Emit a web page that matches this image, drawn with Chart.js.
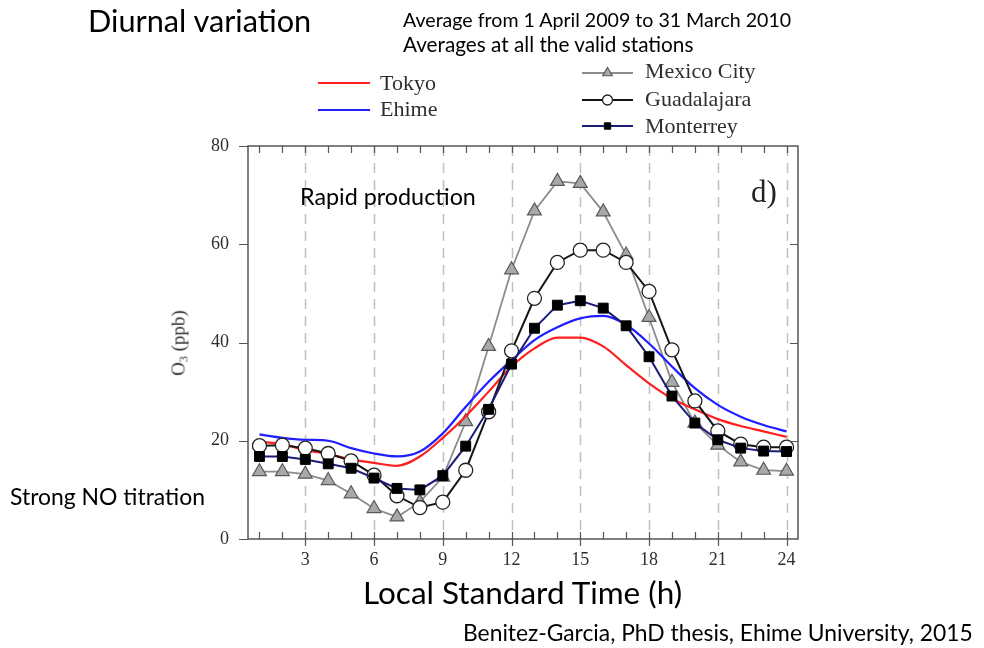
<!DOCTYPE html>
<html><head><meta charset="utf-8">
<script src="https://cdn.jsdelivr.net/npm/chart.js@4.4.1/dist/chart.umd.min.js"></script>
<style>
html,body{margin:0;padding:0;background:#fff;width:984px;height:648px;overflow:hidden;}
#wrap{position:relative;width:984px;height:648px;}
canvas{position:absolute;left:0;top:0;}
.t{position:absolute;white-space:nowrap;line-height:1;}
.cal{font-family:Lato,"Open Sans",sans-serif;color:#000;}
.tim{font-family:"Liberation Serif","DejaVu Serif",serif;color:#2e2e2e;}
#ylab{position:absolute;white-space:nowrap;line-height:1;font-family:"Liberation Serif",serif;font-size:19px;color:#2e2e2e;transform:translate(-50%,-50%) rotate(-90deg);}
#ylab sub{font-size:12px;vertical-align:-3px;}
</style></head><body>
<div id="wrap"><canvas id="c" width="984" height="648"></canvas><div id="txt"></div><div id="ylab">O<sub>3</sub> (ppb)</div></div>
<script>
// ---- data ----
const hours = [1,2,3,4,5,6,7,8,9,10,11,12,13,14,15,16,17,18,19,20,21,22,23,24];
const xTickLabels = [3,6,9,12,15,18,21,24];
const yTickLabels = [0,20,40,60,80];
const seriesNames = ["Tokyo","Ehime","Mexico City","Guadalajara","Monterrey"];
const tokyo = [19.8,19.3,18.1,17.3,16.2,15.5,14.9,16.8,20.6,25.0,30.0,35.1,38.8,41.0,41.0,39.2,35.4,31.7,28.6,26.4,24.4,23.0,21.9,20.8];
const ehime = [21.3,20.6,20.2,20.0,18.5,17.4,16.8,17.8,21.5,26.9,32.0,36.4,40.5,43.1,44.9,45.4,43.6,39.8,35.1,30.7,27.3,24.9,23.2,21.9];
const mexicoCity = [13.7,13.7,13.2,11.9,9.2,6.2,4.5,7.5,12.6,23.9,39.2,54.8,66.8,72.8,72.4,66.6,57.8,45.1,31.9,23.6,19.1,15.7,14.0,13.8];
const guadalajara = [19.0,19.1,18.5,17.4,15.9,13.0,8.8,6.4,7.5,14.0,25.9,38.3,49.0,56.3,58.8,58.8,56.3,50.4,38.5,28.1,22.0,19.3,18.7,18.7];
const monterrey = [16.8,16.8,16.2,15.3,14.4,12.4,10.3,10.0,12.9,18.9,26.4,35.6,42.9,47.6,48.5,47.0,43.4,37.1,29.1,23.6,20.2,18.5,17.9,17.8];

const pts = arr => hours.map((h,i)=>({x:h,y:arr[i]}));

// ---- text ----
const notes = [
  {text:"Diurnal variation", x:88, cy:22, w:224, cls:"cal"},
  {text:"Average from 1 April 2009 to 31 March 2010", x:403, cy:20, w:389, cls:"cal"},
  {text:"Averages at all the valid stations", x:403, cy:45, w:291, cls:"cal"},
  {text:"Rapid production", x:300, cy:197, w:176, cls:"cal"},
  {text:"Strong NO titration", x:10, cy:497, w:195, cls:"cal"},
  {text:"Local Standard Time (h)", x:363, cy:594, w:320, cls:"cal"},
  {text:"Benitez-Garcia, PhD thesis, Ehime University, 2015", x:463, cy:633, w:510, cls:"cal"},
  {text:"d)", x:751, cy:192, fs:31, cls:"tim", color:"#222"},
  {text:"Tokyo", x:380, cy:84, fs:22, cls:"tim"},
  {text:"Ehime", x:380, cy:110, fs:22, cls:"tim"},
  {text:"Mexico City", x:645, cy:72, fs:22, cls:"tim"},
  {text:"Guadalajara", x:645, cy:100, fs:22, cls:"tim"},
  {text:"Monterrey", x:645, cy:127, fs:22, cls:"tim"}
];
const mctx = document.createElement('canvas').getContext('2d');
const txt = document.getElementById('txt');
notes.forEach(n=>{
  const el = document.createElement('div');
  el.className = 't ' + n.cls;
  el.textContent = n.text;
  let fs = n.fs;
  if (!fs) {
    mctx.font = '20px Lato';
    const mw = mctx.measureText(n.text).width;
    fs = 20 * n.w / mw;
  }
  el.style.fontSize = fs.toFixed(2) + 'px';
  el.style.left = n.x + 'px';
  el.style.top = (n.cy - 0.53*fs).toFixed(1) + 'px';
  if (n.color) el.style.color = n.color;
  txt.appendChild(el);
});
const yl = document.getElementById('ylab');
yl.style.left = '179px'; yl.style.top = '343px';

// ---- legend marker geometry ----
const legendPos = [[318,370,83],[318,370,110],[582,633,73],[582,633,100],[582,633,126]];
const legendRadius = [0,0,5.5,5,4.5];

const framePlugin = {
  id:'frame',
  beforeDatasetsDraw(chart){
    const {ctx, chartArea:a, scales:{x,y}} = chart;
    ctx.save();
    ctx.strokeStyle = 'rgba(175,175,175,0.8)';
    ctx.lineWidth = 1.5;
    ctx.setLineDash([10,7]);
    xTickLabels.forEach(v=>{
      const px = Math.round(x.getPixelForValue(v))+0.5;
      ctx.beginPath(); ctx.moveTo(px,a.top); ctx.lineTo(px,a.bottom); ctx.stroke();
    });
    ctx.restore();
  },
  afterDatasetsDraw(chart){
    const {ctx, chartArea:a, scales:{x,y}} = chart;
    ctx.save();
    ctx.strokeStyle = '#555';
    ctx.lineWidth = 1.5;
    ctx.strokeRect(a.left, a.top, a.right-a.left, a.bottom-a.top);
    ctx.lineWidth = 1.2;
    ctx.beginPath();
    hours.forEach(h=>{
      const px = Math.round(x.getPixelForValue(h))+0.5;
      ctx.moveTo(px,a.bottom); ctx.lineTo(px,a.bottom-7);
      ctx.moveTo(px,a.top); ctx.lineTo(px,a.top+7);
      if (xTickLabels.includes(h)) { ctx.moveTo(px,a.bottom); ctx.lineTo(px,a.bottom+7); }
    });
    yTickLabels.forEach(v=>{
      const py = Math.round(y.getPixelForValue(v))+0.5;
      ctx.moveTo(a.left,py); ctx.lineTo(a.left-9,py);
      if (v>0 && v<80) { ctx.moveTo(a.right,py); ctx.lineTo(a.right-8,py); }
    });
    ctx.stroke();
    ctx.restore();
  },
  afterDraw(chart){
    const ctx = chart.ctx;
    chart.data.datasets.forEach((ds,i)=>{
      const [x0,x1,yy] = legendPos[i];
      ctx.save();
      ctx.strokeStyle = ds.borderColor;
      ctx.lineWidth = ds.borderWidth;
      ctx.beginPath(); ctx.moveTo(x0,yy); ctx.lineTo(x1,yy); ctx.stroke();
      if (ds.pointStyle && legendRadius[i]>0) {
        ctx.fillStyle = ds.pointBackgroundColor;
        ctx.strokeStyle = ds.pointBorderColor;
        ctx.lineWidth = ds.pointBorderWidth;
        Chart.helpers.drawPoint(ctx, {pointStyle:ds.pointStyle, radius:legendRadius[i], borderWidth:ds.pointBorderWidth, rotation:0}, (x0+x1)/2, yy);
      }
      ctx.restore();
    });
  }
};

new Chart(document.getElementById('c'), {
  type:'line',
  data:{datasets:[
    {label:seriesNames[0], data:pts(tokyo), borderColor:'#ff1f1f', borderWidth:2.2, pointRadius:0, tension:0.4, cubicInterpolationMode:'monotone', order:4},
    {label:seriesNames[1], data:pts(ehime), borderColor:'#1f1fff', borderWidth:2.2, pointRadius:0, tension:0.4, cubicInterpolationMode:'monotone', order:3},
    {label:seriesNames[2], data:pts(mexicoCity), borderColor:'#8c8c8c', borderWidth:1.8, tension:0,
      pointStyle:'triangle', pointRadius:8, pointBackgroundColor:'#a8a8a8', pointBorderColor:'#5a5a5a', pointBorderWidth:1.2, order:5},
    {label:seriesNames[3], data:pts(guadalajara), borderColor:'#151515', borderWidth:2, tension:0,
      pointStyle:'circle', pointRadius:7, pointBackgroundColor:'#ffffff', pointBorderColor:'#222', pointBorderWidth:1.3, order:2},
    {label:seriesNames[4], data:pts(monterrey), borderColor:'#1b1b78', borderWidth:2, tension:0,
      pointStyle:'rect', pointRadius:7, pointBackgroundColor:'#000', pointBorderColor:'#000', pointBorderWidth:1, order:1}
  ]},
  options:{
    responsive:false, animation:false, devicePixelRatio:1,
    layout:{padding:{top:146, right:186, left:0, bottom:0}},
    plugins:{legend:{display:false}, title:{display:false}, tooltip:{enabled:false}},
    scales:{
      x:{type:'linear', min:0.5, max:24.5,
        afterBuildTicks:s=>{s.ticks = xTickLabels.map(v=>({value:v}));},
        afterFit:s=>{s.height = 109;},
        ticks:{autoSkip:false, maxRotation:0, padding:10, color:'#2e2e2e', font:{family:'"Liberation Serif", serif', size:18}},
        grid:{display:false, drawTicks:false}, border:{display:false}},
      y:{min:0, max:80,
        afterBuildTicks:s=>{s.ticks = yTickLabels.map(v=>({value:v}));},
        afterFit:s=>{s.width = 248;},
        ticks:{padding:19, color:'#2e2e2e', font:{family:'"Liberation Serif", serif', size:18}},
        grid:{display:false, drawTicks:false}, border:{display:false}}
    }
  },
  plugins:[framePlugin]
});
</script>
</body></html>
